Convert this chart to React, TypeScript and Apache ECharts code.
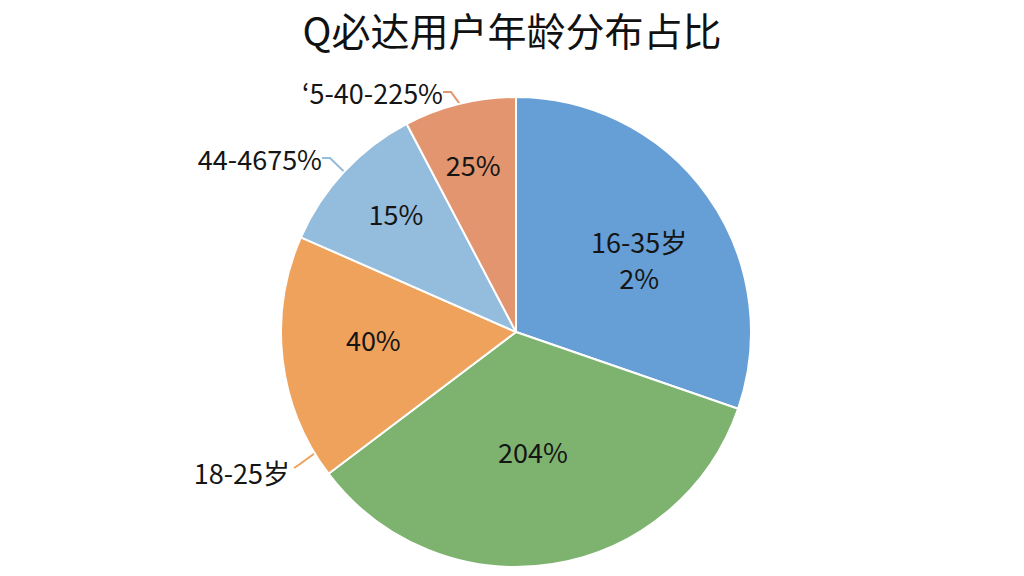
import React, { useEffect, useRef } from 'react';
import * as echarts from 'echarts';

// Q必达用户年龄分布占比 — slices clockwise from 12 o'clock
const sliceNames = ['16-35岁', '26-35岁', '18-25岁', '41-46岁', '35-40岁'];
const sliceValues = [30.3, 34.4, 16.9, 10.7, 7.7];
const insideLabels = ['16-35岁\n2%', '204%', '40%', '15%', '25%'];
const outsideLabels = ['', '', '18-25岁', '44-4675%', '\u02BB5-40-225%'];
const sliceColors = ['#669fd6', '#7db36f', '#efa25c', '#93bcdd', '#e3956f'];

const CENTER = [516, 332];
const RADIUS = 235;

// nudges for the inside labels (px)
const insideShift = [
  [25, -3],
  [-2, 0],
  [-23, -6],
  [-32, -36],
  [-14, -51],
];
// where the outside labels sit (right end, middle), px in the chart
const outsideSpot: (number[] | null)[] = [null, null, [290, 472], [322, 158], [443, 92]];

const App: React.FC = () => {
  const chartRef = useRef<HTMLDivElement>(null);

  useEffect(() => {
    if (!chartRef.current) return;
    const chart = echarts.init(chartRef.current, null, { renderer: 'svg' });

    const total = sliceValues.reduce((a, b) => a + b, 0);
    const startDeg = (i: number) =>
      (sliceValues.slice(0, i).reduce((a, b) => a + b, 0) / total) * 360;

    const baseData = sliceValues.map((v, i) => ({
      name: sliceNames[i],
      value: v,
    }));

    const option = {
      animation: false,
      backgroundColor: '#ffffff',
      title: {
        text: 'Q必达用户年龄分布占比',
        left: 'center',
        top: 9,
        padding: 0,
        textStyle: {
          fontFamily: 'Noto Sans CJK SC',
          fontSize: 39,
          lineHeight: 39,
          fontWeight: 'normal',
          color: '#111',
        },
      },
      series: [
        {
          type: 'pie',
          center: CENTER,
          radius: RADIUS,
          startAngle: 90,
          clockwise: true,
          silent: true,
          data: baseData.map((d, i) => ({
            ...d,
            itemStyle: { color: sliceColors[i] },
          })),
          itemStyle: { borderColor: '#ffffff', borderWidth: 2 },
          label: {
            show: true,
            position: 'inside',
            formatter: (p: any) => insideLabels[p.dataIndex],
            fontFamily: 'Noto Sans CJK SC',
            fontSize: 27,
            lineHeight: 36,
            color: '#151515',
          },
          labelLine: { show: false },
          labelLayout: (p: any) => ({
            dx: insideShift[p.dataIndex][0],
            dy: insideShift[p.dataIndex][1],
          }),
        },
        {
          type: 'pie',
          center: CENTER,
          radius: RADIUS,
          startAngle: 90,
          clockwise: true,
          silent: true,
          data: baseData.map((d, i) => ({
            ...d,
            itemStyle: { color: 'rgba(0,0,0,0)' },
            label: { show: outsideLabels[i] !== '' },
            labelLine: {
              show: outsideLabels[i] !== '',
              lineStyle: { color: sliceColors[i], width: 2 },
            },
          })),
          label: {
            position: 'outside',
            formatter: (p: any) => outsideLabels[p.dataIndex],
            fontFamily: 'Noto Sans CJK SC',
            fontSize: 27,
            color: '#151515',
          },
          labelLine: { length: 14, length2: 8 },
          labelLayout: (p: any) => {
            const s = outsideSpot[p.dataIndex];
            if (!s) return {};
            const out: any = { x: s[0], y: s[1], align: 'right', verticalAlign: 'middle' };
            if (p.dataIndex === 2) {
              // the 18-25岁 line leaves the slice just past its start
              const a = ((startDeg(2) + 6) * Math.PI) / 180;
              out.labelLinePoints = [
                [CENTER[0] + RADIUS * Math.sin(a), CENTER[1] - RADIUS * Math.cos(a)],
                [s[0] + 10, s[1] - 8],
                [s[0] + 4, s[1] - 4],
              ];
            }
            return out;
          },
        },
      ],
    } as any;

    chart.setOption(option);
    return () => chart.dispose();
  }, []);

  return (
    <div
      ref={chartRef}
      style={{ position: 'absolute', left: 0, top: 0, width: 1024, height: 576 }}
    />
  );
};

export default App;
